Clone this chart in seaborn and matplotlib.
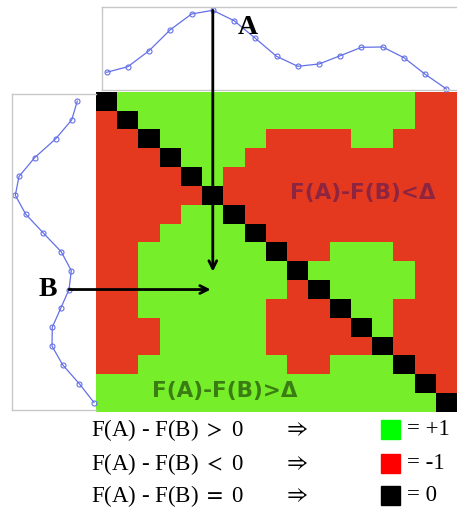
import numpy as np
import matplotlib
matplotlib.use("Agg")
import matplotlib.pyplot as plt
import seaborn as sns
from matplotlib.colors import ListedColormap
from matplotlib.patches import ConnectionPatch, Rectangle

# signal sampled at 17 points (same series on both axes)
signal = [26.7, 32.3, 48.3, 69.3, 85.0, 88.7, 78.3, 60.7, 42.7,
          32.7, 35.0, 43.3, 51.7, 52.0, 41.3, 24.7, 10.0]
idx_a = 5    # column picked as A
idx_b = 10   # row picked as B

legend_lhs = ["F(A) - F(B) $>$ 0", "F(A) - F(B) $<$ 0", "F(A) - F(B) $=$ 0"]
legend_rhs = ["= +1", "= -1", "= 0"]
legend_cols = ["#00ff00", "#ff0000", "#000000"]

GREEN = "#76ee2a"
RED = "#e4391f"
LINE = "#6470e8"
EDGE = "#c8c8c8"

plt.rcParams["mathtext.fontset"] = "stix"

f = np.array(signal)
n = len(f)
M = np.sign(f[None, :] - f[:, None])   # row = B, col = A

W, H = 457, 510
fig = plt.figure(figsize=(W / 100, H / 100), dpi=100)

def px(x0, y0, x1, y1):
    return [x0 / W, 1 - y1 / H, (x1 - x0) / W, (y1 - y0) / H]

# heatmap
ax = fig.add_axes(px(96, 92.7, 457, 413))
sns.heatmap(M, cmap=ListedColormap([RED, "black", GREEN]), vmin=-1, vmax=1,
            cbar=False, ax=ax, xticklabels=False, yticklabels=False)
ax.tick_params(left=False, bottom=False)

ax.text(12.55, 5.3, "F(A)-F(B)<\u0394", color="#8e2540", fontsize=15.5,
        fontweight="bold", family="DejaVu Sans", ha="center", va="center")
ax.text(6.05, 15.85, "F(A)-F(B)>\u0394", color="#3a7d12", fontsize=15.5,
        fontweight="bold", family="DejaVu Sans", ha="center", va="center")

# top signal
ax_top = fig.add_axes(px(101.7, 8, 470, 90.7))
ax_top.plot(np.arange(n) + 0.5, f, color=LINE, lw=0.9, marker="o", ms=3.6,
            mfc="none", mec=LINE, mew=0.8, clip_on=False)
ax_top.set_xlim((101.7 - 96) / 21.24, (470 - 96) / 21.24)
ax_top.set_ylim(9.3, 92)
ax_top.set_xticks([]); ax_top.set_yticks([])
ax_top.spines["right"].set_visible(False)
for s in ["top", "left", "bottom"]:
    ax_top.spines[s].set_color(EDGE)
    ax_top.spines[s].set_linewidth(1)

# left signal (rotated)
ax_left = fig.add_axes(px(12.3, 95, 96, 411))
ax_left.plot(f, np.arange(n) + 0.5, color=LINE, lw=0.9, marker="o", ms=3.6,
             mfc="none", mec=LINE, mew=0.8, clip_on=False)
ax_left.set_xlim(91.7, 8)
ax_left.set_ylim((411 - 92.7) / 18.84, (95 - 92.7) / 18.84)
ax_left.set_xticks([]); ax_left.set_yticks([])
for s in ax_left.spines.values():
    s.set_color(EDGE)
    s.set_linewidth(1)
ax_left.spines["right"].set_visible(False)

# arrows A and B
arr_a = ConnectionPatch(xyA=(idx_a + 0.5, f[idx_a]), coordsA=ax_top.transData,
                        xyB=(idx_a + 0.5, idx_b - 0.45), coordsB=ax.transData,
                        arrowstyle="->", lw=2, color="black", mutation_scale=14,
                        shrinkA=0, shrinkB=0)
fig.add_artist(arr_a)
arr_b = ConnectionPatch(xyA=(f[idx_b], idx_b + 0.5), coordsA=ax_left.transData,
                        xyB=(idx_a + 0.4, idx_b + 0.5), coordsB=ax.transData,
                        arrowstyle="->", lw=2, color="black", mutation_scale=14,
                        shrinkA=0, shrinkB=0)
fig.add_artist(arr_b)

serif = ["Liberation Serif", "DejaVu Serif"]
fig.text(248 / W, 1 - 27 / H, "A", fontsize=20, fontweight="bold", family=serif,
         ha="center", va="center")
fig.text(48 / W, 1 - 289 / H, "B", fontsize=20, fontweight="bold", family=serif,
         ha="center", va="center")

# legend below
rows_y = [430, 464, 496]
for yy, lhs, rhs, col in zip(rows_y, legend_lhs, legend_rhs, legend_cols):
    fig.text(91 / W, 1 - yy / H, lhs, fontsize=16.5, family=serif, ha="left", va="center")
    fig.text(283 / W, 1 - yy / H, r"$\Rightarrow$", fontsize=16.5, family=serif,
             ha="left", va="center")
    fig.patches.append(Rectangle((381 / W, 1 - (yy + 9.5) / H), 19 / W, 19 / H,
                                 transform=fig.transFigure, color=col, figure=fig))
    fig.text(407 / W, 1 - yy / H, rhs, fontsize=16.5, family=serif, ha="left", va="center")

fig.savefig("out.png", dpi=100)
